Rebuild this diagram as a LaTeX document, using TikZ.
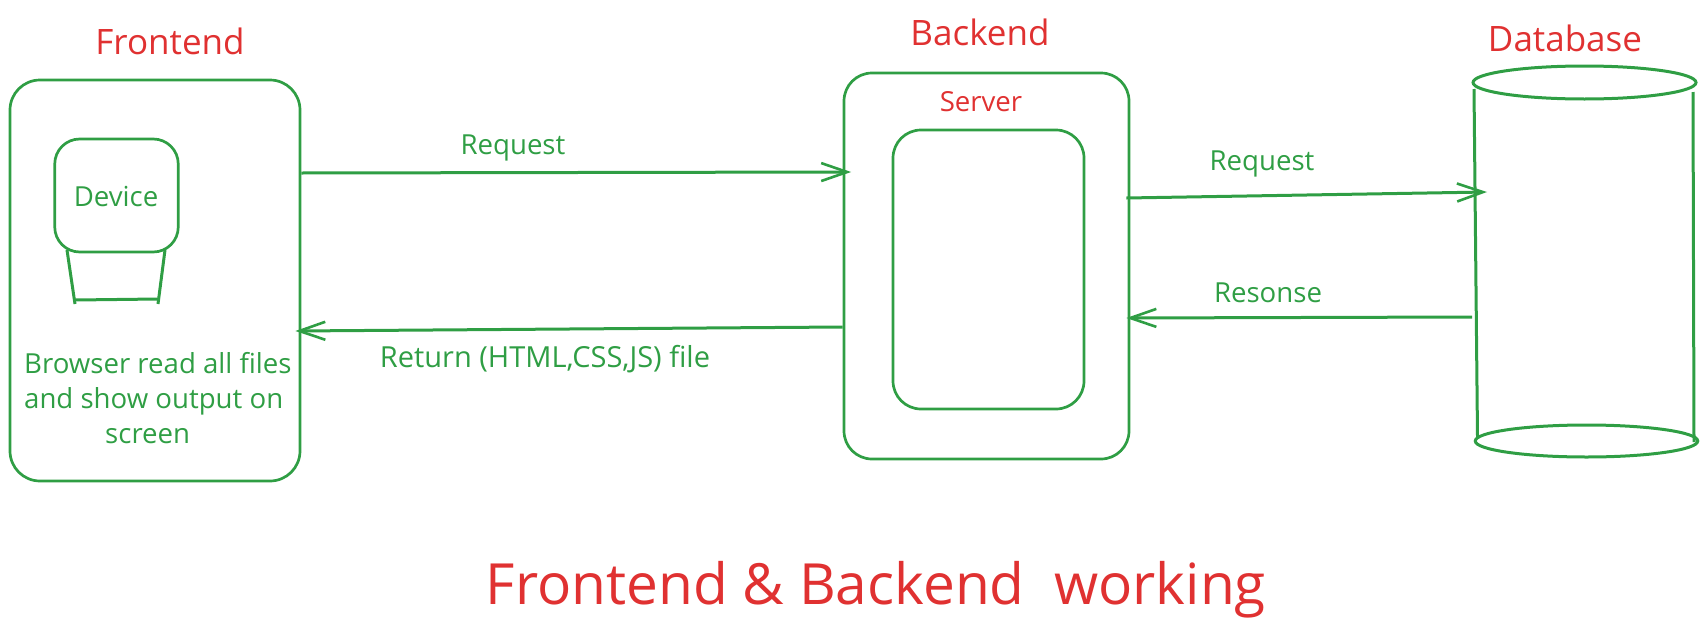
\documentclass[tikz,border=0pt]{standalone}
\usepackage{fontspec}
\setmainfont{Open Sans}
\usetikzlibrary{arrows.meta,shapes.geometric,calc}
\definecolor{exgreen}{HTML}{2F9E44}
\definecolor{exred}{HTML}{E03131}
\newcommand{\fs}[1]{\fontsize{#1}{#1}\selectfont}
\tikzset{
  sketchbox/.style={draw=exgreen,line width=2.7pt,rounded corners=#1,inner sep=0pt,fill=none},
  dbcap/.style={draw=exgreen,line width=3pt,ellipse,inner sep=0pt},
  link/.style={draw=exgreen,line width=3pt,-{Straight Barb[length=26pt,width=18pt,line width=2.6pt]}},
  wire/.style={draw=exgreen,line width=3pt},
  greentext/.style={text=exgreen,font=\fs{27.6},inner sep=0pt},
  redtext/.style={text=exred,font=\fs{27.6},inner sep=0pt},
  headtext/.style={text=exred,font=\fs{35},inner sep=0pt},
}
\begin{document}
\begin{tikzpicture}[x=1pt,y=-1pt]
\useasboundingbox (0,0) rectangle (1708,632);
% boxes
\node[sketchbox=30pt,minimum width=290pt,minimum height=401pt] (front) at (155,280.5) {};
\node[sketchbox=25pt,minimum width=123.5pt,minimum height=113pt] (device) at (116.5,195.5) {};
\node[sketchbox=28pt,minimum width=285pt,minimum height=386pt] (server) at (986.5,266) {};
\node[sketchbox=28pt,minimum width=191pt,minimum height=279pt] (inner) at (988.5,269.5) {};
% device stand
\coordinate (stA) at (67,250);
\coordinate (stB) at (75,304);
\coordinate (stC) at (165,250);
\coordinate (stD) at (158,304);
\coordinate (stE) at (75,300);
\coordinate (stF) at (158,299);
\draw[wire] (stA) -- (stB);
\draw[wire] (stC) -- (stD);
\draw[wire] (stE) -- (stF);
% database
\node[dbcap,minimum width=223pt,minimum height=33pt] (dbtop) at (1584.5,82.5) {};
\node[dbcap,minimum width=222.5pt,minimum height=32pt] (dbbot) at (1586.5,441) {};
\coordinate (dbL1) at (1474,89);
\coordinate (dbL2) at (1477.5,437);
\coordinate (dbR1) at (1693,92);
\coordinate (dbR2) at (1694,442);
\draw[wire] (dbL1) -- (dbL2);
\draw[wire] (dbR1) -- (dbR2);
% connectors
\coordinate (dbIn) at (1487,192);
\coordinate (dbOut) at (1472,317);
\draw[link] ([yshift=107.5pt]front.east) -- ([xshift=8.5pt,yshift=94pt]server.west);
\draw[link] ([yshift=-61pt]server.west) -- ([xshift=-6pt,yshift=-50.5pt]front.east);
\draw[link] ([xshift=-4pt,yshift=68pt]server.east) -- (dbIn);
\draw[link] (dbOut) -- ([xshift=-4pt,yshift=-52pt]server.east);
% labels
\node[headtext] (lFront) at (170,41) {Frontend};
\node[headtext] (lBack) at (980,32) {Backend};
\node[headtext] (lDb) at (1565,38) {Database};
\node[redtext] (lServer) at (981,102) {Server};
\node[greentext] (lDevice) at (116,197) {Device};
\node[greentext,align=left,anchor=west] (lBrowser) at (24,398) {Browser read all files\\[7.4pt]and show output on\\[7.4pt]\hspace*{81pt}screen};
\node[greentext] (lReq1) at (513,148) {Request};
\node[greentext,font=\fs{29}] (lRet) at (545,359) {Return (HTML,CSS,JS) file};
\node[greentext] (lReq2) at (1262,164) {Request};
\node[greentext] (lRes) at (1268,293) {Resonse};
\node[text=exred,font=\fs{56.8},inner sep=0pt] (title) at (876,590) {Frontend \& Backend\ \ working};
\end{tikzpicture}
\end{document}
